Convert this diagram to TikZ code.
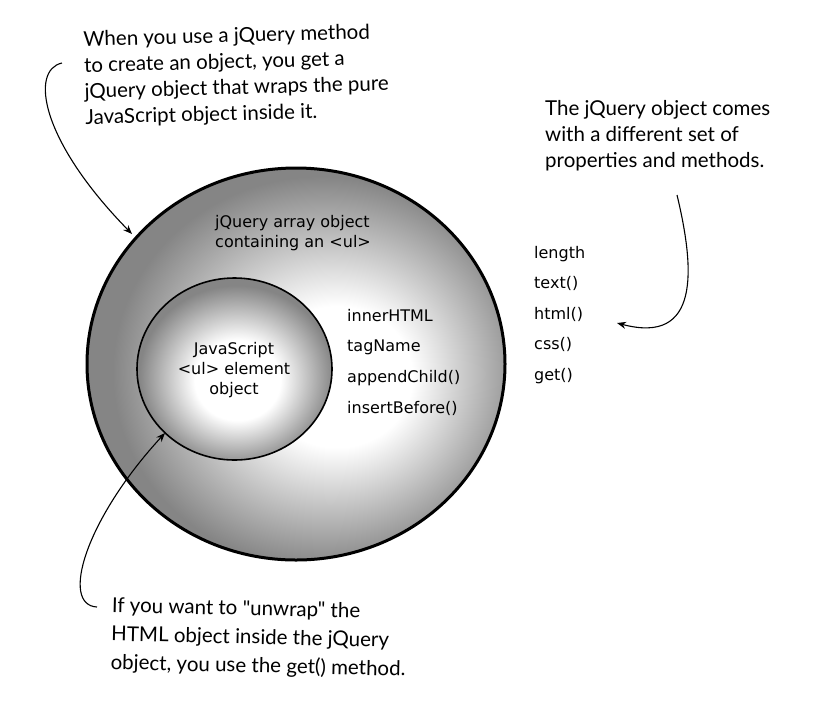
\documentclass[tikz,border=0pt]{standalone}
\usepackage{fontspec}
\setmainfont{DejaVu Sans}
\newfontfamily\hand{Lato}
\usetikzlibrary{arrows.meta,shapes.geometric}
\pgfdeclareradialshading{outersh}{\pgfpoint{6bp}{-2bp}}{color(0bp)=(white); color(9bp)=(white); color(25bp)=(black!48); color(50bp)=(black!48)}
\pgfdeclareradialshading{innersh}{\pgfpoint{1bp}{-4bp}}{color(0bp)=(white); color(11bp)=(white); color(25bp)=(black!48); color(50bp)=(black!48)}
\begin{document}
\begin{tikzpicture}[x=1pt,y=-1pt,
  lbl/.style={font=\fontsize{16}{19}\selectfont, anchor=base west, inner sep=0pt},
  clbl/.style={font=\fontsize{16}{20}\selectfont, align=center, inner sep=0pt},
  note/.style={font=\hand\fontsize{20.5}{26}\selectfont, align=left, inner sep=0pt, anchor=north west},
  arr/.style={-{Stealth[length=9pt,width=7pt]}, line width=1.1pt}]
\useasboundingbox (0,0) rectangle (829,721);

% ellipses
\node[ellipse, draw, line width=3pt, shade, shading=outersh, minimum width=418pt, minimum height=392pt, inner sep=0pt] (outer) at (296,364) {};
\node[ellipse, draw, line width=1.6pt, shade, shading=innersh, minimum width=195pt, minimum height=182pt, inner sep=0pt] (inner) at (234.5,369) {};

% labels in outer
\node[lbl] (jq1) at (215,227) {jQuery array object};
\node[lbl] (jq2) at (215,247) {containing an <ul>};
\node[clbl, anchor=north] (js) at (234,342) {JavaScript\\<ul> element\\object};

\node[lbl] (p1) at (347,321) {innerHTML};
\node[lbl] (p2) at (347,351) {tagName};
\node[lbl] (p3) at (347,382) {appendChild()};
\node[lbl] (p4) at (347,413) {insertBefore()};

\node[lbl] (m1) at (534,258) {length};
\node[lbl] (m2) at (534,288.5) {text()};
\node[lbl] (m3) at (534,319) {html()};
\node[lbl] (m4) at (534,349.5) {css()};
\node[lbl] (m5) at (534,380) {get()};

% handwritten notes
\node[note, rotate=1.5] (n1) at (83,31) {When you use a jQuery method\\to create an object, you get a\\jQuery object that wraps the pure\\JavaScript object inside it.};
\node[note] (n2) at (545,100) {The jQuery object comes\\with a different set of\\properties and methods.};
\node[note, rotate=-1.3, font=\hand\fontsize{20.5}{28.5}\selectfont] (n3) at (112,597) {If you want to "unwrap" the\\HTML object inside the jQuery\\object, you use the get() method.};

% arrows
\coordinate (a1s) at (62,63);
\coordinate (a1e) at (132,234);
\draw[arr] (a1s) .. controls (30,70) and (40,140) .. (a1e);
\coordinate (a2s) at (677,195);
\coordinate (a2e) at (617,323);
\draw[arr] (a2s) .. controls (695,270) and (700,345) .. (a2e);
\coordinate (a3s) at (97,607);
\coordinate (a3e) at (165,433);
\draw[arr] (a3s) .. controls (60,605) and (85,520) .. (a3e);
\end{tikzpicture}
\end{document}
